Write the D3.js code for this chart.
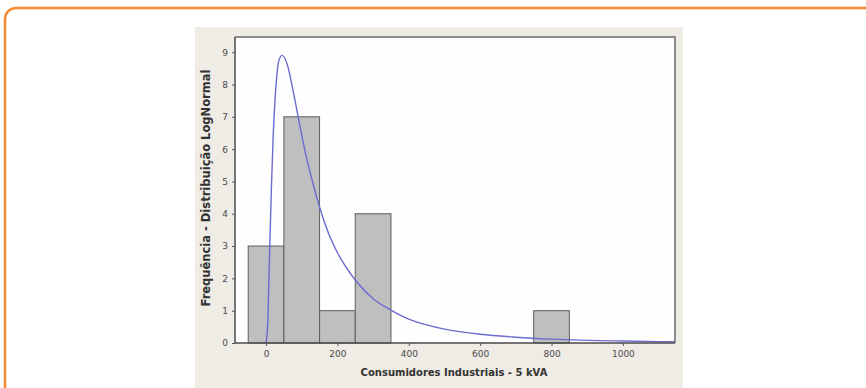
<!DOCTYPE html>
<html>
<head>
<meta charset="utf-8">
<script src="https://cdn.jsdelivr.net/npm/d3@7"></script>
<style>
  html, body { margin: 0; padding: 0; background: #fff; }
  svg { display: block; }
  .tick text { font-family: "DejaVu Sans", sans-serif; font-size: 9px; fill: #4a4a4a; }
</style>
</head>
<body>
<svg id="chart" width="866" height="388"></svg>
<script>
// histograma: centro da classe e frequência
let binCenters = [0, 100, 200, 300, 800];
let binCounts = [3, 7, 1, 4, 1];
let binWidth = 100;

// curva lognormal (x, frequência)
let curveX = [0, 5, 10, 15, 20, 25, 30, 35, 45, 60, 75, 90, 110, 130, 150, 175, 200, 250, 300, 350, 400, 450, 500, 600, 700, 800, 900, 1000, 1100, 1146];
let curveY = [0, 0.7, 2.8, 4.8, 6.4, 7.5, 8.25, 8.7, 8.9, 8.6, 7.85, 7.0, 5.9, 5.0, 4.2, 3.4, 2.8, 1.95, 1.37, 1.02, 0.74, 0.56, 0.43, 0.27, 0.18, 0.12, 0.08, 0.06, 0.043, 0.037];

let xTicks = [0, 200, 400, 600, 800, 1000];
let yTicks = [0, 1, 2, 3, 4, 5, 6, 7, 8, 9];

let xLabel = 'Consumidores Industriais - 5 kVA';
let yLabel = 'Frequência - Distribuição LogNormal';

let svg = d3.select('#chart');

// moldura laranja
svg.append('rect')
	.attr('x', 5).attr('y', 8)
	.attr('width', 900).attr('height', 420)
	.attr('rx', 11).attr('ry', 11)
	.attr('fill', 'none').attr('stroke', '#f28c2e').attr('stroke-width', 2.5);

// fundo bege do gráfico
svg.append('rect')
	.attr('x', 195).attr('y', 27)
	.attr('width', 488).attr('height', 361)
	.attr('fill', '#efebe5');

let plot = { left: 235, top: 37, right: 675, bottom: 343 };

let x = d3.scaleLinear().domain([-87, 1146]).range([plot.left, plot.right]);
let y = d3.scaleLinear().domain([0, 9.47]).range([plot.bottom, plot.top]);

svg.append('rect')
	.attr('x', plot.left).attr('y', plot.top)
	.attr('width', plot.right - plot.left).attr('height', plot.bottom - plot.top)
	.attr('fill', '#fefefe');

// barras
let bins = binCenters.map((c, i) => ({ x0: c - binWidth / 2, x1: c + binWidth / 2, n: binCounts[i] }));
svg.append('g').selectAll('rect').data(bins).enter().append('rect')
	.attr('x', d => x(d.x0))
	.attr('y', d => y(d.n))
	.attr('width', d => x(d.x1) - x(d.x0))
	.attr('height', d => y(0) - y(d.n))
	.attr('fill', '#bfbfbf')
	.attr('stroke', '#5c5c5c')
	.attr('stroke-width', 1);

// curva
let pts = curveX.map((v, i) => [v, curveY[i]]);
let line = d3.line().x(d => x(d[0])).y(d => y(d[1])).curve(d3.curveMonotoneX);
svg.append('path')
	.attr('d', line(pts))
	.attr('fill', 'none')
	.attr('stroke', '#6b6bd0')
	.attr('stroke-width', 1.4);

// borda superior e direita
svg.append('path')
	.attr('d', `M${plot.left},${plot.top}H${plot.right}V${plot.bottom}`)
	.attr('fill', 'none').attr('stroke', '#8c8c8c').attr('stroke-width', 2);

// eixos
let xAxis = svg.append('g')
	.attr('transform', `translate(0,${plot.bottom})`)
	.call(d3.axisBottom(x).tickValues(xTicks).tickFormat(d3.format('d')).tickSize(3).tickPadding(5));
let yAxis = svg.append('g')
	.attr('transform', `translate(${plot.left},0)`)
	.call(d3.axisLeft(y).tickValues(yTicks).tickSize(3).tickPadding(4));
[xAxis, yAxis].forEach(a => {
	a.select('.domain').attr('stroke', '#4a4a4a').attr('stroke-width', 1.5);
	a.selectAll('.tick line').attr('stroke', '#555');
});
xAxis.select('.domain').attr('d', `M${plot.left},0H${plot.right}`);
yAxis.select('.domain').attr('d', `M0,${plot.top}V${plot.bottom}`);

// títulos
svg.append('text')
	.attr('x', 454).attr('y', 376)
	.attr('text-anchor', 'middle')
	.attr('font-family', '"DejaVu Sans", sans-serif')
	.attr('font-size', 10).attr('font-weight', 'bold')
	.attr('fill', '#333')
	.text(xLabel);

svg.append('text')
	.attr('transform', 'translate(210,188) rotate(-90)')
	.attr('text-anchor', 'middle')
	.attr('font-family', '"DejaVu Sans", sans-serif')
	.attr('font-size', 11.5).attr('font-weight', 'bold')
	.attr('fill', '#333')
	.text(yLabel);
</script>
</body>
</html>
